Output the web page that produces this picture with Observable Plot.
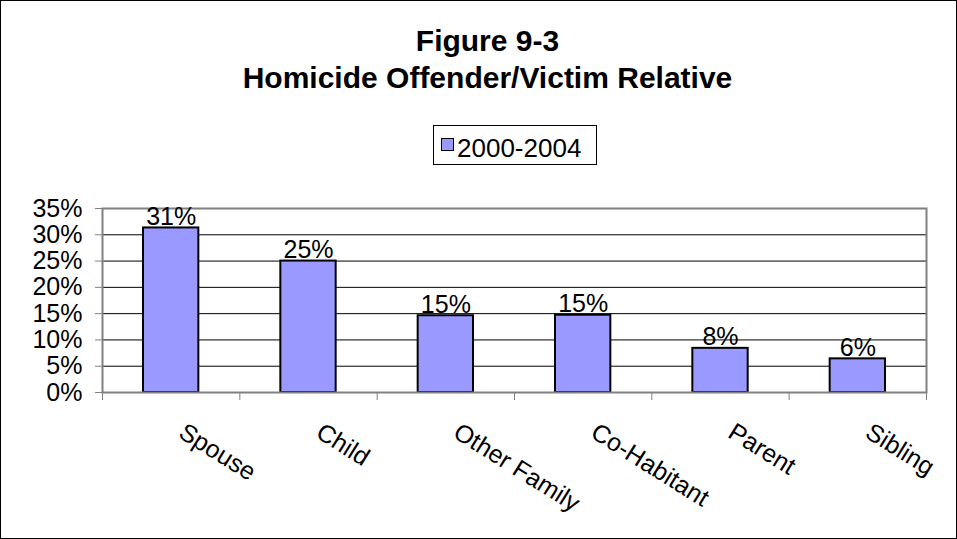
<!DOCTYPE html>
<html><head><meta charset="utf-8">
<script src="https://cdn.jsdelivr.net/npm/d3@7"></script>
<script src="https://cdn.jsdelivr.net/npm/@observablehq/plot@0.6"></script>
<style>
body{margin:0;background:#fff;}
#wrap{position:relative;width:955px;height:537px;border:1px solid #000;overflow:hidden;font-family:"Liberation Sans",Arial,sans-serif;color:#000;background:#fff;}
#chart{position:absolute;left:0;top:0;}
#title{position:absolute;left:9px;top:21px;width:955px;text-align:center;font-weight:bold;font-size:30px;line-height:37px;}
#legend{position:absolute;left:432px;top:124px;width:164px;height:40px;box-sizing:border-box;border:1px solid #000;background:#fff;}
#legend .sw{position:absolute;left:7px;top:12px;width:13px;height:13px;box-sizing:border-box;border:1px solid #000;background:#9999FF;}
#legend .lt{position:absolute;left:23px;top:9px;font-size:26px;line-height:26px;white-space:nowrap;}
</style></head>
<body>
<div id="wrap">
  <div id="chart"></div>
  <div id="title"></div>
  <div id="legend"><div class="sw"></div><div class="lt"></div></div>
</div>
<script>
const titleLines = ["Figure 9-3", "Homicide Offender/Victim Relative"];
const seriesName = "2000-2004";
const categories = ["Spouse", "Child", "Other Family", "Co-Habitant", "Parent", "Sibling"];
const values = [0.313, 0.250, 0.146, 0.147, 0.084, 0.064];
const yTicks = [0, 0.05, 0.10, 0.15, 0.20, 0.25, 0.30, 0.35];

document.getElementById("title").innerHTML = titleLines.join("<br>");
document.querySelector("#legend .lt").textContent = seriesName;

const pct = d3.format(".0%");
const n = categories.length;

const chart = Plot.plot({
  width: 955,
  height: 537,
  marginLeft: 101,
  marginRight: 30,
  marginTop: 207,
  marginBottom: 146,
  style: {fontFamily: "'Liberation Sans', Arial, sans-serif", fontSize: "25px", color: "#000", background: "transparent", overflow: "visible"},
  x: {type: "linear", domain: [0, n], axis: null},
  y: {domain: [0, 0.35], axis: null},
  marks: [
    Plot.gridY(yTicks.filter(v => v > 0 && v < 0.35), {stroke: "#000", strokeOpacity: 1, strokeWidth: 1}),
    Plot.rectY(values, {x1: (d, i) => i, x2: (d, i) => i + 1, y1: 0, y2: d => d, fill: "#9999FF", stroke: "#000", strokeWidth: 2, insetLeft: 41, insetRight: 41}),
    Plot.frame({stroke: "#808080", strokeWidth: 2}),
    Plot.axisY(yTicks, {tickSize: 7, tickPadding: 13, tickFormat: pct, stroke: "#808080", label: null}),
    Plot.axisX(d3.range(n + 1), {tickSize: 8, tickFormat: () => "", stroke: "#808080", label: null}),
    Plot.text(categories, {x: (d, i) => i + 0.5, y: () => 0, text: d => d, rotate: 32, textAnchor: "start", lineAnchor: "bottom", dx: 6, dy: 44, fill: "#000"}),
    Plot.text(values, {x: (d, i) => i + 0.5, y: d => d, text: d => pct(d), lineAnchor: "bottom", dy: -3, fill: "#000"})
  ]
});
document.getElementById("chart").appendChild(chart);
</script>
</body></html>
